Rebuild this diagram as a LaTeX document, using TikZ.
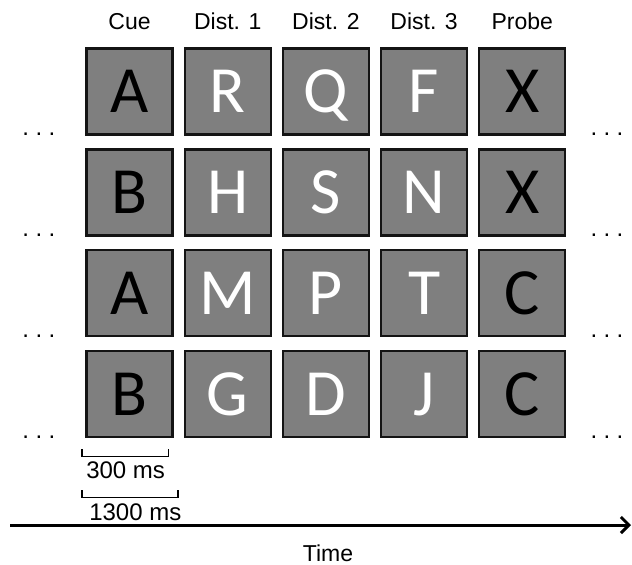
\documentclass[tikz,border=0pt]{standalone}
\usepackage{fontspec}
\setmainfont{Liberation Sans}
\newfontfamily\letterfont{Carlito}
\usetikzlibrary{arrows.meta, positioning, calc}
\definecolor{BoxGray}{HTML}{7F7F7F}
\definecolor{EdgeDark}{HTML}{141414}
\newcommand{\gapdots}{.\hspace{3.2pt}.\hspace{3.2pt}.}

\begin{document}
\begin{tikzpicture}[
    x=0.5pt, y=-0.5pt,
    node distance=6.35pt and 5pt,
    frame/.style={rectangle, draw=EdgeDark, line width=1.1pt, fill=BoxGray,
                  minimum width=43pt, minimum height=43pt, inner sep=0pt,
                  text height=20.8pt, text depth=0pt,
                  font=\letterfont\fontsize{33}{33}\selectfont},
    target/.style={frame, text=black},
    filler/.style={frame, text=white},
    header/.style={font=\fontsize{11.5}{13}\selectfont, inner sep=0pt},
    timing/.style={font=\fontsize{12}{14}\selectfont, inner sep=0pt, anchor=base west},
    dots/.style={font=\fontsize{12}{14}\selectfont, inner sep=0pt, anchor=base},
    span/.style={line width=0.8pt}
]
    \useasboundingbox (0,0) rectangle (632,564);

    % Trial rows
    \node[target] (cue1) at (129.5,91.5) {A};
    \node[filler, right=of cue1] (dista1) {R};
    \node[filler, right=of dista1] (distb1) {Q};
    \node[filler, right=of distb1] (distc1) {F};
    \node[target, right=of distc1] (probe1) {X};

    \node[target, below=of cue1] (cue2) {B};
    \node[filler, right=of cue2] (dista2) {H};
    \node[filler, right=of dista2] (distb2) {S};
    \node[filler, right=of distb2] (distc2) {N};
    \node[target, right=of distc2] (probe2) {X};

    \node[target, below=of cue2] (cue3) {A};
    \node[filler, right=of cue3] (dista3) {M};
    \node[filler, right=of dista3] (distb3) {P};
    \node[filler, right=of distb3] (distc3) {T};
    \node[target, right=of distc3] (probe3) {C};

    \node[target, below=of cue3] (cue4) {B};
    \node[filler, right=of cue4] (dista4) {G};
    \node[filler, right=of dista4] (distb4) {D};
    \node[filler, right=of distb4] (distc4) {J};
    \node[target, right=of distc4] (probe4) {C};

    % Column headers
    \node[header, above=8.5pt of cue1] (hcue) {Cue};
    \node[header, above=8.5pt of dista1] (hdista) {Dist. 1};
    \node[header, above=8.5pt of distb1] (hdistb) {Dist. 2};
    \node[header, above=8.5pt of distc1] (hdistc) {Dist. 3};
    \node[header, above=8.5pt of probe1] (hprobe) {Probe};

    % Continuation dots
    \node[dots] (ldots1) at ([xshift=-23.25pt]cue1.south west) {\gapdots};
    \node[dots] (ldots2) at ([xshift=-23.25pt]cue2.south west) {\gapdots};
    \node[dots] (ldots3) at ([xshift=-23.25pt]cue3.south west) {\gapdots};
    \node[dots] (ldots4) at ([xshift=-23.25pt]cue4.south west) {\gapdots};
    \node[dots] (rdots1) at ([xshift=20.25pt]probe1.south east) {\gapdots};
    \node[dots] (rdots2) at ([xshift=20.25pt]probe2.south east) {\gapdots};
    \node[dots] (rdots3) at ([xshift=20.25pt]probe3.south east) {\gapdots};
    \node[dots] (rdots4) at ([xshift=20.25pt]probe4.south east) {\gapdots};

    % Durations
    \coordinate (s1a) at ([xshift=-1.75pt, yshift=-5.5pt]cue4.south west);
    \coordinate (s1b) at ([xshift=-2.5pt, yshift=-5.5pt]cue4.south east);
    \draw[span] (s1a) -- ++(0,7) -| (s1b);
    \node[timing] (t300) at ($(s1a)+(4,29)$) {300 ms};

    \coordinate (s2a) at ([yshift=-20.5pt]s1a);
    \coordinate (s2b) at ($(s2a)+(96,0)$);
    \draw[span] (s2a) -- ++(0,7) -| (s2b);
    \node[timing] (t1300) at ($(s2a)+(7,30)$) {1300 ms};

    % Time axis
    \coordinate (tstart) at (10,525);
    \coordinate (tend) at (631,525);
    \draw[line width=1.5pt, -{Straight Barb[length=4pt, width=8pt]}] (tstart) -- (tend);
    \node[header] (timelbl) at (328,553) {Time};
\end{tikzpicture}
\end{document}
